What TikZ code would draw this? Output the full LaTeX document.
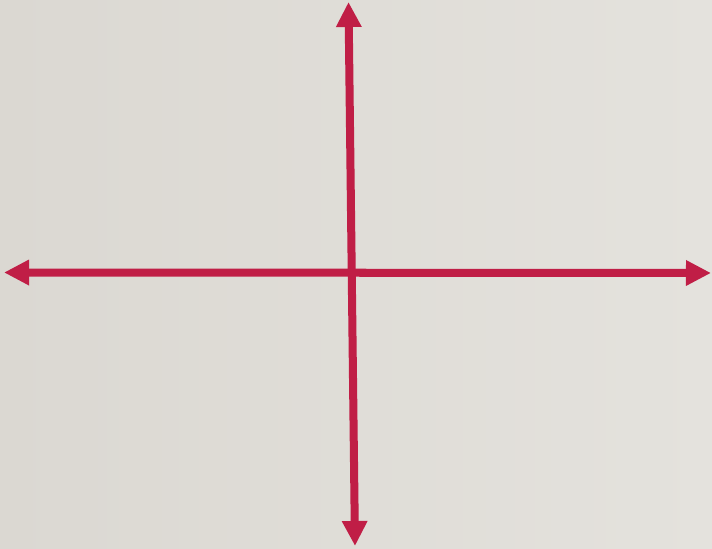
\documentclass[tikz,border=0pt]{standalone}
\usetikzlibrary{arrows.meta}

\definecolor{axisred}{RGB}{192,30,70}
\definecolor{bgleft}{RGB}{219,216,210}
\definecolor{bgright}{RGB}{228,226,221}

\tikzset{
    axis/.style={axisred, line width=0.08cm, {Triangle[length=0.25cm, width=0.24cm]}-{Triangle[length=0.25cm, width=0.24cm]}}
}

\begin{document}
\begin{tikzpicture}[x=0.01cm, y=-0.01cm]
    % Background
    \shade[left color=bgleft, right color=bgright] (0,0) rectangle (712,549);
    \useasboundingbox (0,0) rectangle (712,549);

    % Axis end points
    \coordinate (west) at (4,272.5);
    \coordinate (east) at (711,273);
    \coordinate (north) at (348.5,2);
    \coordinate (south) at (355,546);

    % Axes
    \draw[axis] (west) -- (east);
    \draw[axis] (north) -- (south);
\end{tikzpicture}
\end{document}
